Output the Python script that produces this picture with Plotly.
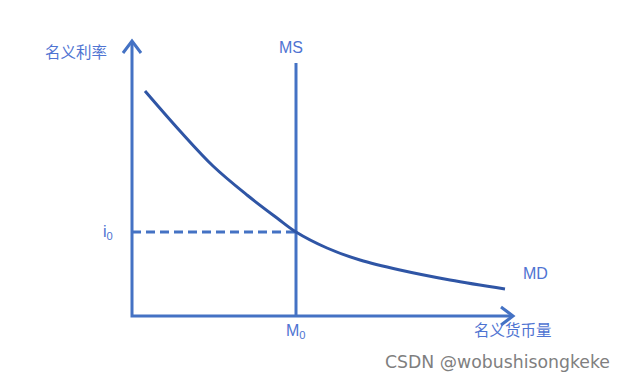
import plotly.graph_objects as go

# MD curve (money quantity, interest rate) in chart units
md_x = [13, 48, 81, 115, 145, 164, 195, 228, 268, 318, 373]
md_y = [225, 185, 150, 121, 98, 84, 68, 56, 46, 36, 27]
m0 = 164          # money supply
i0 = 84           # equilibrium rate
ms_top = 253
x_axis_end = 380
y_axis_end = 274

axis_c = "#4472C4"
curve_c = "#2F55A5"
text_c = "#4F74D2"
font_fam = "Liberation Sans, Noto Sans CJK SC, sans-serif"

fig = go.Figure()
# axes
fig.add_trace(go.Scatter(x=[0, 0, x_axis_end], y=[y_axis_end, 0, 0], mode="lines",
                         line=dict(color=axis_c, width=3), hoverinfo="skip"))
# arrow chevrons derived from axis ends
a = 9
fig.add_trace(go.Scatter(x=[-a, 0, a], y=[y_axis_end - a - 2, y_axis_end + 1, y_axis_end - a - 2],
                         mode="lines", line=dict(color=axis_c, width=3), hoverinfo="skip"))
fig.add_trace(go.Scatter(x=[x_axis_end - a - 2, x_axis_end + 1, x_axis_end - a - 2], y=[a, 0, -a],
                         mode="lines", line=dict(color=axis_c, width=3), hoverinfo="skip"))
# MS
fig.add_trace(go.Scatter(x=[m0, m0], y=[0, ms_top], mode="lines",
                         line=dict(color=axis_c, width=3), hoverinfo="skip"))
# dashed i0
fig.add_trace(go.Scatter(x=[0, m0], y=[i0, i0], mode="lines",
                         line=dict(color=axis_c, width=3, dash="9px,5px"), hoverinfo="skip"))
# MD
fig.add_trace(go.Scatter(x=md_x, y=md_y, mode="lines",
                         line=dict(color=curve_c, width=3, shape="spline", smoothing=1.0),
                         hoverinfo="skip"))

def txt(x, y, s, size=15, color=text_c, xanchor="center"):
    fig.add_annotation(x=x, y=y, text=s, showarrow=False, xanchor=xanchor, yanchor="middle",
                       font=dict(size=size, color=color, family=font_fam))

txt(-56, 264, "名义利率", 15.5)
txt(m0 - 5, 269, "MS", 16)
txt(-24, 84, "i<sub>0</sub>", 16)
txt(m0, -15, "M<sub>0</sub>", 16)
txt(403, 43, "MD", 16)
txt(381, -14, "名义货币量", 15.5)
fig.add_annotation(x=480, y=-46, text="CSDN @wobushisongkeke", showarrow=False, xanchor="right",
                   yanchor="middle", font=dict(size=17.3, color="#7f7f7f", family="DejaVu Sans, sans-serif"))

fig.update_layout(width=627, height=384, margin=dict(l=0, r=0, t=0, b=0),
                  paper_bgcolor="white", plot_bgcolor="white", showlegend=False,
                  xaxis=dict(range=[-124, 503], visible=False, fixedrange=True),
                  yaxis=dict(range=[-76, 308], visible=False, fixedrange=True))
fig.write_html("out.html")
